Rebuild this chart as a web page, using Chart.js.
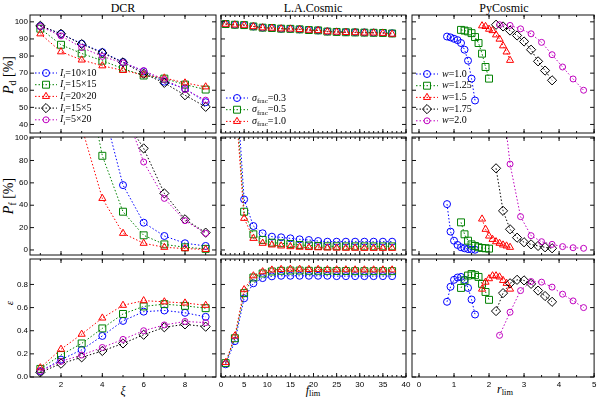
<!DOCTYPE html>
<html lang="en">
<head>
<meta charset="UTF-8">
<title>Cosmic ray detection: DCR / L.A.Cosmic / PyCosmic</title>
<script src="https://cdn.jsdelivr.net/npm/chart.js@4.4.0/dist/chart.umd.min.js"></script>
<style>
  body { margin: 0; background: #fff; }
  #wrap { position: relative; width: 600px; height: 397px; overflow: hidden; }
  #wrap canvas { position: absolute; left: 0; top: 0; }
  .lbl { position: absolute; font-family: "Liberation Serif", serif; color: #000;
         white-space: nowrap; transform: translate(-50%, -50%); line-height: 1; }
  .rot { transform: translate(-50%, -50%) rotate(-90deg); }
  .lbl sub { font-size: 70%; vertical-align: -0.3em; }
</style>
</head>
<body>
<div id="wrap">
  <div class="lbl" style="left:123px;top:8px;font-size:12px">DCR</div>
  <div class="lbl" style="left:313px;top:8px;font-size:12px">L.A.Cosmic</div>
  <div class="lbl" style="left:504px;top:8px;font-size:12px">PyCosmic</div>
  <div class="lbl rot" style="left:10px;top:75px;font-size:14px"><i>P</i><sub>d</sub> [%]</div>
  <div class="lbl rot" style="left:10px;top:196px;font-size:14px"><i>P</i><sub>f</sub> [%]</div>
  <div class="lbl rot" style="left:9px;top:303px;font-size:11px"><i>ε</i></div>
  <div class="lbl" style="left:123px;top:391px;font-size:12px"><i>ξ</i></div>
  <div class="lbl" style="left:313px;top:391px;font-size:12px"><i>f</i><sub>lim</sub></div>
  <div class="lbl" style="left:505px;top:390px;font-size:12px"><i>r</i><sub>lim</sub></div>
</div>

<script>
// ---------- data ----------
// DCR: sigma-clipping factor xi, five window sizes I_i
const xi = [1, 2, 3, 4, 5, 6, 7, 8, 9];
const dcrPd = [
  [97.5, 93, 87.2, 82.3, 76.5, 71, 65, 61, 53],
  [96, 86.6, 81.5, 77.3, 72.6, 68.6, 66.8, 63.3, 60.4],
  [93, 82.5, 77.7, 74.3, 71.6, 69, 67.2, 64.3, 62],
  [97.7, 93, 87, 81.8, 76.3, 69.7, 64.3, 57.1, 50.3],
  [97.3, 91.8, 85, 79.8, 76, 71.5, 66.2, 60.4, 54.2]
];
const dcrPf = [
  [null, null, null, 130, 58, 24.4, 12.5, 6, 3.6],
  [null, null, 175, 84.2, 34.2, 13.1, 5, 2.4, 1],
  [null, null, 110, 46.1, 14.9, 6, 2.4, 1.2, 0.5],
  [null, null, null, null, 120, 90.8, 50.6, 27.4, 15.5],
  [null, null, null, null, 130, 78.6, 46.1, 26.2, 14.9]
];
const dcrEps = [
  [0.05, 0.15, 0.235, 0.355, 0.485, 0.565, 0.575, 0.555, 0.52],
  [0.07, 0.19, 0.29, 0.42, 0.545, 0.61, 0.63, 0.615, 0.595],
  [0.08, 0.24, 0.37, 0.51, 0.62, 0.66, 0.65, 0.64, 0.62],
  [0.04, 0.115, 0.17, 0.225, 0.29, 0.365, 0.43, 0.455, 0.435],
  [0.05, 0.135, 0.19, 0.255, 0.325, 0.40, 0.45, 0.48, 0.47]
];

// L.A.Cosmic: f_lim, three sigma_frac values
const flim = [1, 3, 5, 7, 9, 11, 13, 15, 17, 19, 21, 23, 25, 27, 29, 31, 33, 35, 37];
const laPd = [
  [98.7, 98.3, 98.1, 97.3, 96.6, 96.4, 96, 95.9, 95.6, 95.3, 95, 94.4, 94.2, 94, 93.9, 93.8, 93.7, 93.6, 93.3],
  [98.7, 98.3, 98.1, 97.3, 96.6, 96.4, 96, 95.9, 95.6, 95.2, 95, 94.3, 94.1, 93.9, 93.8, 93.7, 93.6, 93.5, 93.2],
  [98.6, 98.2, 98, 97.2, 96.5, 96.3, 95.9, 95.8, 95.5, 95.1, 94.9, 94.2, 94, 93.8, 93.7, 93.5, 93.5, 93.3, 92.8]
];
const laPf = [
  [null, 170, 45.2, 21.4, 14.9, 11.9, 11.3, 10.4, 9.5, 8.9, 8, 7.4, 7.4, 7.4, 7.4, 7.4, 7.4, 7.4, 7.4],
  [null, 150, 34.2, 14, 9, 6.5, 6, 5.4, 4.5, 4, 3.6, 3.3, 3.3, 3.2, 3.2, 3.2, 3.2, 3.2, 3.2],
  [null, 140, 28.3, 10.4, 6, 4.5, 3.6, 3, 2.5, 2.2, 2, 1.8, 1.7, 1.6, 1.6, 1.5, 1.5, 1.5, 1.5]
];
const laEps = [
  [0.11, 0.31, 0.68, 0.81, 0.855, 0.87, 0.875, 0.875, 0.875, 0.875, 0.875, 0.875, 0.872, 0.872, 0.872, 0.872, 0.872, 0.872, 0.872],
  [0.12, 0.335, 0.725, 0.86, 0.895, 0.912, 0.918, 0.92, 0.92, 0.918, 0.918, 0.917, 0.916, 0.916, 0.915, 0.915, 0.915, 0.915, 0.915],
  [0.125, 0.355, 0.755, 0.875, 0.91, 0.925, 0.93, 0.932, 0.932, 0.93, 0.93, 0.928, 0.927, 0.927, 0.926, 0.926, 0.926, 0.926, 0.926]
];

// PyCosmic: r_lim per w
const pyR = [
  [0.8, 0.9, 1.0, 1.1, 1.2, 1.3, 1.4, 1.5, 1.6],
  [1.2, 1.3, 1.4, 1.5, 1.6, 1.7, 1.8, 1.9, 2.0],
  [1.8, 1.9, 2.0, 2.1, 2.2, 2.3, 2.4, 2.5, 2.6],
  [2.2, 2.4, 2.6, 2.8, 3.0, 3.2, 3.4, 3.6, 3.8],
  [2.3, 2.6, 2.9, 3.2, 3.5, 3.8, 4.1, 4.4, 4.7]
];
const pyPd = [
  [91.4, 90.9, 90.1, 89.3, 87.6, 83.7, 77.3, 66.8, 54],
  [95.3, 94.9, 94.4, 93.4, 91.1, 87.6, 81.4, 73.6, 66.8],
  [97.7, 97.3, 95.7, 94.9, 92.4, 89.9, 86, 82.4, 77.5],
  [98.3, 97.3, 94.9, 92, 88.5, 83.7, 76.9, 71.5, 65.8],
  [98.3, 97.9, 95.9, 93, 88, 80.8, 73.6, 66.6, 60]
];
const pyPf = [
  [41, 16.4, 8.3, 4.5, 2.4, 1.5, 0.8, 0.4, 0.2],
  [24.7, 14, 8.3, 5, 3.6, 2.4, 1.8, 1.5, 1.2],
  [27.7, 18.5, 12.5, 9.5, 7.4, 6, 4.5, 3.6, 2.4],
  [73, 35, 18.5, 11, 6.9, 5, 3.6, 2.4, 1.5],
  [160, 76.8, 29.8, 12.8, 7.4, 5, 3, 2, 1.5]
];
const pyEps = [
  [0.65, 0.78, 0.84, 0.86, 0.865, 0.84, 0.77, 0.67, 0.54],
  [0.77, 0.835, 0.877, 0.89, 0.88, 0.865, 0.805, 0.735, 0.667],
  [0.76, 0.82, 0.85, 0.875, 0.875, 0.865, 0.835, 0.81, 0.76],
  [0.57, 0.725, 0.81, 0.84, 0.835, 0.805, 0.747, 0.70, 0.65],
  [0.36, 0.56, 0.747, 0.825, 0.82, 0.777, 0.716, 0.658, 0.60]
];

// tick labels
const xTicks = [[2, 4, 6, 8], [0, 5, 10, 15, 20, 25, 30, 35, 40], [0, 1, 2, 3, 4, 5]];
const yTicks = [[40, 50, 60, 70, 80, 90, 100], [0, 20, 40, 60, 80, 100], [0, 0.2, 0.4, 0.6, 0.8]];

// ---------- layout / style ----------
const colL = [30, 221, 412], colR = [216, 406, 597];
const rowT = [15, 137, 259], rowB = [133, 255, 377];
const xLim = [[0.5, 9.5], [0, 40], [-0.2, 5]];
const yLim = [[35, 104], [-4.5, 101], [0, 1.02]];
const xMinorStep = [1, 1, 0.5];

const colors = ['#0000ff', '#008000', '#ff0000', '#000000', '#bf00bf'];
const pStyles = ['circle', 'rect', 'triangle', 'rectRot', 'circle'];
const pRadii = [3.5, 4.9, 4.1, 4.6, 3];

const tickFont = { family: '"Liberation Sans", Arial, sans-serif', size: 8 };

// frame + inward tick marks
const framePlugin = {
  id: 'frame',
  afterDraw(chart, args, opts) {
    const { ctx, chartArea: a, scales } = chart;
    const x = scales.x, y = scales.y;
    ctx.save();
    ctx.strokeStyle = '#111';
    ctx.lineWidth = 1;
    ctx.strokeRect(a.left, a.top, a.right - a.left, a.bottom - a.top);
    ctx.beginPath();
    const step = opts.minor;
    for (let v = Math.ceil(x.min / step) * step; v <= x.max + 1e-9; v += step) {
      const px = x.getPixelForValue(v);
      ctx.moveTo(px, a.bottom); ctx.lineTo(px, a.bottom - 2);
      ctx.moveTo(px, a.top); ctx.lineTo(px, a.top + 2);
    }
    x.ticks.forEach(t => {
      const px = x.getPixelForValue(t.value);
      ctx.moveTo(px, a.bottom); ctx.lineTo(px, a.bottom - 4);
      ctx.moveTo(px, a.top); ctx.lineTo(px, a.top + 4);
    });
    y.ticks.forEach(t => {
      const py = y.getPixelForValue(t.value);
      ctx.moveTo(a.left, py); ctx.lineTo(a.left + 4, py);
      ctx.moveTo(a.right, py); ctx.lineTo(a.right - 4, py);
    });
    ctx.stroke();
    ctx.restore();
  }
};

// in-panel legend: dotted line sample + marker + label with subscripts
const legendPlugin = {
  id: 'panelLegend',
  afterDraw(chart, args, opts) {
    if (!opts.items) return;
    const ctx = chart.ctx;
    opts.items.forEach((parts, i) => {
      const ds = chart.data.datasets[i];
      const y = opts.y + i * opts.dy;
      ctx.save();
      ctx.strokeStyle = ds.borderColor;
      ctx.lineWidth = 1;
      ctx.setLineDash([1.5, 2]);
      ctx.beginPath();
      ctx.moveTo(opts.x - 11, y); ctx.lineTo(opts.x + 11, y);
      ctx.stroke();
      ctx.setLineDash([]);
      ctx.lineWidth = ds.pointBorderWidth;
      ctx.fillStyle = 'rgba(0,0,0,0)';
      Chart.helpers.drawPoint(ctx, {
        pointStyle: ds.pointStyle, radius: ds.pointRadius,
        borderWidth: ds.pointBorderWidth, rotation: 0
      }, opts.x, y);
      ctx.fillStyle = '#000';
      ctx.textBaseline = 'middle';
      let tx = opts.tx;
      parts.forEach(p => {
        const size = p.sub ? 7 : 10;
        ctx.font = (p.it ? 'italic ' : '') + size + 'px "Liberation Serif", serif';
        ctx.fillText(p.t, tx, y + (p.sub ? 3 : 0));
        tx += ctx.measureText(p.t).width;
      });
      ctx.restore();
    });
  }
};

function makeDatasets(xsList, ysList) {
  return ysList.map((ys, i) => {
    const xs = Array.isArray(xsList[0]) ? xsList[i] : xsList;
    return {
      data: xs.map((x, k) => ({ x: x, y: ys[k] })),
      showLine: true,
      fill: false,
      tension: 0,
      borderColor: colors[i],
      borderWidth: 1,
      borderDash: [1.5, 2],
      pointStyle: pStyles[i],
      pointRadius: pRadii[i],
      pointBorderWidth: 1,
      pointBorderColor: colors[i],
      pointBackgroundColor: 'rgba(0,0,0,0)',
      order: -i
    };
  });
}

function makePanel(r, c, datasets, legend) {
  const cv = document.createElement('canvas');
  cv.width = 600; cv.height = 397;
  document.getElementById('wrap').appendChild(cv);
  new Chart(cv, {
    type: 'scatter',
    data: { datasets: datasets },
    options: {
      responsive: false,
      animation: false,
      devicePixelRatio: 1,
      layout: { padding: { left: colL[c] - 30, right: 600 - colR[c], top: rowT[r], bottom: 397 - rowB[r] - 13 } },
      plugins: {
        legend: { display: false },
        tooltip: { enabled: false },
        frame: { minor: xMinorStep[c] },
        panelLegend: legend || {}
      },
      scales: {
        x: {
          type: 'linear', min: xLim[c][0], max: xLim[c][1],
          grid: { display: false, drawTicks: false }, border: { display: false },
          ticks: { display: r === 2, padding: 3, font: tickFont, color: '#000', autoSkip: false, maxRotation: 0,
                   callback: v => String(v) },
          afterBuildTicks: s => { s.ticks = xTicks[c].map(v => ({ value: v })); },
          afterFit: s => { s.height = 13; s.paddingLeft = 0; s.paddingRight = 0; }
        },
        y: {
          type: 'linear', min: yLim[r][0], max: yLim[r][1],
          grid: { display: false, drawTicks: false }, border: { display: false },
          ticks: { display: c === 0, padding: 2, font: tickFont, color: '#000', autoSkip: false,
                   callback: v => r === 2 ? v.toFixed(1) : String(v) },
          afterBuildTicks: s => { s.ticks = yTicks[r].map(v => ({ value: v })); },
          afterFit: s => { s.width = 30; s.paddingTop = 0; s.paddingBottom = 0; }
        }
      }
    },
    plugins: [framePlugin, legendPlugin]
  });
}

const it = t => ({ t: t, it: true });
const rm = t => ({ t: t });
const sb = t => ({ t: t, sub: true });

const dcrLegend = {
  x: 46, tx: 60, y: 73, dy: 11.7,
  items: ['10×10', '15×15', '20×20', '15×5', '5×20'].map(s => [it('I'), { t: 'i', it: true, sub: true }, rm('=' + s)])
};
const laLegend = {
  x: 237, tx: 252, y: 98, dy: 11.7,
  items: ['0.3', '0.5', '1.0'].map(s => [it('σ'), sb('frac'), rm('=' + s)])
};
const pyLegend = {
  x: 427, tx: 442, y: 74, dy: 11.7,
  items: ['1.0', '1.25', '1.5', '1.75', '2.0'].map(s => [it('w'), rm('=' + s)])
};

makePanel(0, 0, makeDatasets(xi, dcrPd), dcrLegend);
makePanel(1, 0, makeDatasets(xi, dcrPf));
makePanel(2, 0, makeDatasets(xi, dcrEps));
makePanel(0, 1, makeDatasets(flim, laPd), laLegend);
makePanel(1, 1, makeDatasets(flim, laPf));
makePanel(2, 1, makeDatasets(flim, laEps));
makePanel(0, 2, makeDatasets(pyR, pyPd), pyLegend);
makePanel(1, 2, makeDatasets(pyR, pyPf));
makePanel(2, 2, makeDatasets(pyR, pyEps));
</script>
</body>
</html>
